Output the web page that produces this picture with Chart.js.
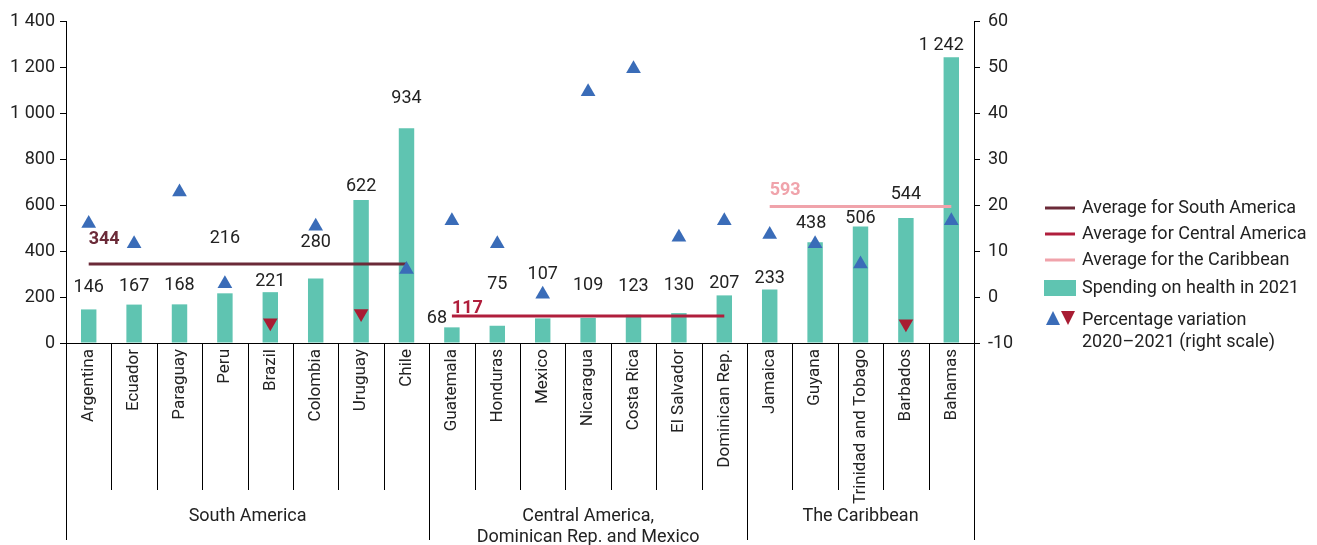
<!DOCTYPE html>
<html>
<head>
<meta charset="utf-8">
<script src="https://cdn.jsdelivr.net/npm/chart.js@4"></script>
<style>
  html, body { margin: 0; padding: 0; background: #fff; }
  #wrap { width: 1317px; height: 545px; }
</style>
</head>
<body>
<div id="wrap"><canvas id="healthChart" width="1317" height="545"></canvas></div>
<script>
var countries = ['Argentina', 'Ecuador', 'Paraguay', 'Peru', 'Brazil', 'Colombia', 'Uruguay', 'Chile',
  'Guatemala', 'Honduras', 'Mexico', 'Nicaragua', 'Costa Rica', 'El Salvador', 'Dominican Rep.',
  'Jamaica', 'Guyana', 'Trinidad and Tobago', 'Barbados', 'Bahamas'];
var spending2021 = [146, 167, 168, 216, 221, 280, 622, 934, 68, 75, 107, 109, 123, 130, 207, 233, 438, 506, 544, 1242];
var variation = [16, 11.6, 22.8, 2.9, -5.6, 15.4, -3.6, 6, 16.6, 11.6, 0.6, 44.6, 49.6, 13, 16.6, 13.6, 11.6, 7.2, -5.8, 16.6];
var groups = [
  { name: ['South America'], start: 0, end: 7, avg: 344, color: '#6b2a38' },
  { name: ['Central America,', 'Dominican Rep. and Mexico'], start: 8, end: 14, avg: 117, color: '#b01e3c' },
  { name: ['The Caribbean'], start: 15, end: 19, avg: 593, color: '#f0a3ab' }
];
var leftTicks = [0, 200, 400, 600, 800, 1000, 1200, 1400];
var rightTicks = [-10, 0, 10, 20, 30, 40, 50, 60];

// label placement tweaks (pixels above bar top, horizontal shift)
var labelLift = [22, 18, 19, 55, 11, 36, 13, 30, 9, 41, 44, 32, 28, 28, 12, 11, 19, 8, 23, 12];
var labelShift = [0, 0, 0, 0, 0, 0, 0, 0, -15, 0, 0, 0, 0, 0, 0, 0, -4, 0, 0, -10];
var avgLift = [24, 8, 16];

var FONT = "Roboto, 'Liberation Sans', sans-serif";
var TEXT = '#222222';
var TEAL = '#5fc4b1';
var BLUE = '#3a6cb8';
var RED = '#a81c33';

function fmt(v) {
  return String(v).replace(/\B(?=(\d{3})+(?!\d))/g, ' ');
}

function avgData(g) {
  return countries.map(function (c, i) { return (i >= g.start && i <= g.end) ? g.avg : null; });
}

var overlay = {
  id: 'overlay',
  afterDatasetsDraw: function (chart) {
    var ctx = chart.ctx;
    var x = chart.scales.x, y = chart.scales.y;
    ctx.save();
    ctx.fillStyle = TEXT;
    ctx.font = '18px ' + FONT;
    ctx.textAlign = 'center';
    ctx.textBaseline = 'middle';
    spending2021.forEach(function (v, i) {
      ctx.fillText(fmt(v), x.getPixelForValue(i) + labelShift[i], y.getPixelForValue(v) - labelLift[i]);
    });
    ctx.font = 'bold 18px ' + FONT;
    ctx.textAlign = 'left';
    groups.forEach(function (g, k) {
      ctx.fillStyle = g.color;
      ctx.fillText(String(g.avg), x.getPixelForValue(g.start), y.getPixelForValue(g.avg) - avgLift[k]);
    });
    ctx.restore();
  },
  afterDraw: function (chart) {
    var ctx = chart.ctx;
    var x = chart.scales.x;
    var area = chart.chartArea;
    var half = (x.getPixelForValue(1) - x.getPixelForValue(0)) / 2;
    ctx.save();
    ctx.strokeStyle = '#000';
    ctx.lineWidth = 1;
    // separators between categories and groups
    for (var i = 0; i <= countries.length; i++) {
      var px = Math.round(x.getPixelForValue(i) - half) + 0.5;
      var isGroup = i === 0 || i === countries.length || groups.some(function (g) { return g.start === i; });
      ctx.beginPath();
      ctx.moveTo(px, area.bottom);
      ctx.lineTo(px, area.bottom + (isGroup ? 197 : 147));
      ctx.stroke();
    }
    ctx.fillStyle = TEXT;
    ctx.font = '18px ' + FONT;
    ctx.textAlign = 'center';
    ctx.textBaseline = 'middle';
    groups.forEach(function (g) {
      var cx = (x.getPixelForValue(g.start) + x.getPixelForValue(g.end)) / 2;
      g.name.forEach(function (line, j) {
        ctx.fillText(line, cx, area.bottom + 173 + j * 21);
      });
    });

    // legend
    var lx = 1045, tx = 1082;
    ctx.textAlign = 'left';
    ctx.lineWidth = 3;
    groups.forEach(function (g, k) {
      var ly = 208 + k * 26;
      ctx.strokeStyle = g.color;
      ctx.beginPath();
      ctx.moveTo(lx, ly);
      ctx.lineTo(lx + 30, ly);
      ctx.stroke();
      ctx.fillText('Average for ' + ['South America', 'Central America', 'the Caribbean'][k], tx, ly);
    });
    ctx.fillStyle = TEAL;
    ctx.fillRect(lx - 1, 280, 32, 16);
    ctx.fillStyle = TEXT;
    ctx.fillText('Spending on health in 2021', tx, 288);
    ctx.fillStyle = BLUE;
    ctx.beginPath();
    ctx.moveTo(1053, 311); ctx.lineTo(1060, 325); ctx.lineTo(1046, 325); ctx.closePath(); ctx.fill();
    ctx.fillStyle = RED;
    ctx.beginPath();
    ctx.moveTo(1061, 311); ctx.lineTo(1075, 311); ctx.lineTo(1068, 325); ctx.closePath(); ctx.fill();
    ctx.fillStyle = TEXT;
    ctx.fillText('Percentage variation', tx, 320);
    ctx.fillText('2020\u20132021 (right scale)', tx, 342);
    ctx.restore();
  }
};

var ctx = document.getElementById('healthChart').getContext('2d');
var datasets = [
  {
    type: 'line',
    label: 'Percentage variation 2020-2021',
    data: variation,
    yAxisID: 'y1',
    showLine: false,
    pointStyle: 'triangle',
    pointRadius: 8.5,
    pointHoverRadius: 8.5,
    pointBorderWidth: 0,
    pointRotation: variation.map(function (v) { return v < 0 ? 180 : 0; }),
    pointBackgroundColor: variation.map(function (v) { return v < 0 ? RED : BLUE; }),
    order: 1
  }
];
groups.forEach(function (g) {
  datasets.push({
    type: 'line',
    label: 'Average ' + g.name[0],
    data: avgData(g),
    yAxisID: 'y',
    borderColor: g.color,
    borderWidth: 3,
    pointRadius: 0,
    spanGaps: false,
    order: 2
  });
});
datasets.push({
  type: 'bar',
  label: 'Spending on health in 2021',
  data: spending2021,
  yAxisID: 'y',
  backgroundColor: TEAL,
  barPercentage: 0.34,
  categoryPercentage: 1,
  order: 3
});

var healthChart = new Chart(ctx, {
  type: 'bar',
  data: { labels: countries, datasets: datasets },
  options: {
    responsive: false,
    animation: false,
    devicePixelRatio: 1,
    layout: { padding: { top: 21, left: 0, right: 0, bottom: 0 } },
    plugins: { legend: { display: false }, tooltip: { enabled: false } },
    scales: {
      x: {
        offset: true,
        grid: { display: false, drawTicks: false },
        border: { display: true, color: '#000', width: 1 },
        ticks: {
          autoSkip: false, minRotation: 90, maxRotation: 90, padding: 6,
          color: TEXT, font: { family: FONT, size: 17 }
        },
        afterFit: function (s) { s.height = 202; }
      },
      y: {
        position: 'left',
        min: 0, max: 1400,
        afterBuildTicks: function (s) { s.ticks = leftTicks.map(function (v) { return { value: v }; }); },
        grid: { drawOnChartArea: false, drawTicks: true, tickLength: 6, color: '#000' },
        border: { display: true, color: '#000', width: 1 },
        ticks: {
          padding: 5, color: TEXT, font: { family: FONT, size: 18 },
          callback: function (v) { return fmt(v); }
        },
        afterFit: function (s) { s.width = 66; }
      },
      y1: {
        position: 'right',
        min: -10, max: 60,
        afterBuildTicks: function (s) { s.ticks = rightTicks.map(function (v) { return { value: v }; }); },
        grid: { drawOnChartArea: false, drawTicks: true, tickLength: 6, color: '#000' },
        border: { display: true, color: '#000', width: 1 },
        ticks: { padding: 8, color: TEXT, font: { family: FONT, size: 18 } },
        afterFit: function (s) { s.width = 343; }
      }
    }
  },
  plugins: [overlay]
});
</script>
</body>
</html>
